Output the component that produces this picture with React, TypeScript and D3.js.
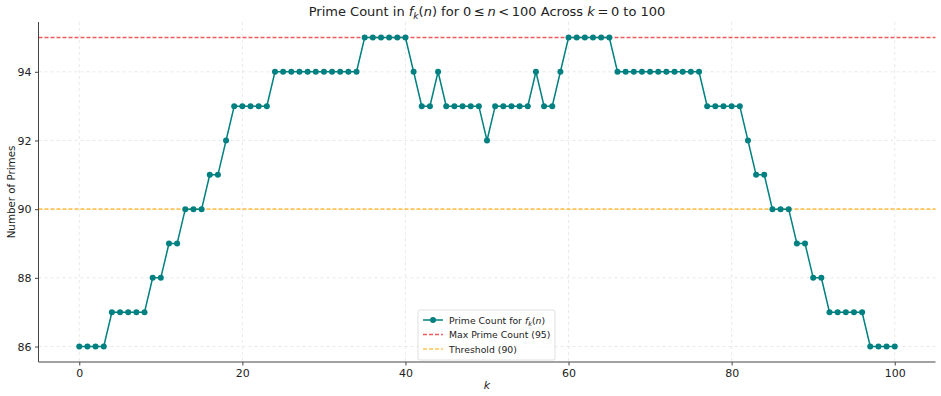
import { useEffect, useRef } from "react";
import * as d3 from "d3";

// prime counts for k = 0..100
const ks: number[] = d3.range(0, 101);
const primeCounts: number[] = [
  86, 86, 86, 86, 87, 87, 87, 87, 87, 88,
  88, 89, 89, 90, 90, 90, 91, 91, 92, 93,
  93, 93, 93, 93, 94, 94, 94, 94, 94, 94,
  94, 94, 94, 94, 94, 95, 95, 95, 95, 95,
  95, 94, 93, 93, 94, 93, 93, 93, 93, 93,
  92, 93, 93, 93, 93, 93, 94, 93, 93, 94,
  95, 95, 95, 95, 95, 95, 94, 94, 94, 94,
  94, 94, 94, 94, 94, 94, 94, 93, 93, 93,
  93, 93, 92, 91, 91, 90, 90, 90, 89, 89,
  88, 88, 87, 87, 87, 87, 87, 86, 86, 86,
  86,
];
const xTicks: number[] = [0, 20, 40, 60, 80, 100];
const yTicks: number[] = [86, 88, 90, 92, 94];
const maxLine = 95;
const thresholdLine = 90;

const W = 941;
const H = 396;
const FONT = "DejaVu Sans, sans-serif";
const RED = "rgb(240,90,90)";
const ORANGE = "rgb(255,195,90)";

export default function App() {
  const svgRef = useRef<SVGSVGElement>(null);

  useEffect(() => {
    const svg = d3.select(svgRef.current);
    svg.selectAll("*").remove();

    const left = 38.5;
    const right = 935.5;
    const top = 22;
    const bottom = 362;

    const x = d3.scaleLinear().domain([-5, 105]).range([left, right]);
    const y = d3.scaleLinear().domain([85.55, 95.45]).range([bottom, top]);

    // grid
    const grid = svg.append("g");
    xTicks.forEach((t) => {
      grid
        .append("line")
        .attr("x1", x(t)).attr("x2", x(t))
        .attr("y1", top).attr("y2", bottom)
        .attr("stroke", "#e3e3e3")
        .attr("stroke-width", 0.8)
        .attr("stroke-dasharray", "3,3");
    });
    yTicks.forEach((t) => {
      grid
        .append("line")
        .attr("x1", left).attr("x2", right)
        .attr("y1", y(t)).attr("y2", y(t))
        .attr("stroke", "#e3e3e3")
        .attr("stroke-width", 0.8)
        .attr("stroke-dasharray", "3,3");
    });

    // reference lines
    const refs = svg.append("g");
    refs
      .append("line")
      .attr("x1", left).attr("x2", right)
      .attr("y1", y(maxLine)).attr("y2", y(maxLine))
      .style("stroke", RED)
      .style("stroke-width", 1.6)
      .style("stroke-dasharray", "4,2");
    refs
      .append("line")
      .attr("x1", left).attr("x2", right)
      .attr("y1", y(thresholdLine)).attr("y2", y(thresholdLine))
      .style("stroke", ORANGE)
      .style("stroke-width", 1.6)
      .style("stroke-dasharray", "4,2");

    // data line + markers
    const line = d3
      .line<number>()
      .x((d, i) => x(ks[i]))
      .y((d) => y(d));
    svg
      .append("path")
      .datum(primeCounts)
      .attr("d", line)
      .attr("fill", "none")
      .attr("stroke", "#008080")
      .attr("stroke-width", 1.5);
    svg
      .append("g")
      .selectAll("circle")
      .data(primeCounts)
      .enter()
      .append("circle")
      .attr("cx", (d, i) => x(ks[i]))
      .attr("cy", (d) => y(d))
      .attr("r", 3)
      .attr("fill", "#008080");

    // axes
    const xAxis = svg
      .append("g")
      .attr("transform", `translate(0,${bottom})`)
      .call(d3.axisBottom(x).tickValues(xTicks).tickSize(3.5).tickPadding(3.5));
    const yAxis = svg
      .append("g")
      .attr("transform", `translate(${left},0)`)
      .call(d3.axisLeft(y).tickValues(yTicks).tickSize(3.5).tickPadding(3.5));
    [xAxis, yAxis].forEach((a) => {
      a.select(".domain").attr("stroke", "#444").attr("stroke-width", 1);
      a.selectAll(".tick line").attr("stroke", "#444");
      a.selectAll(".tick text")
        .attr("fill", "#222")
        .style("font-family", FONT)
        .style("font-size", "11px");
    });
    xAxis.select(".domain").attr("d", `M${left},0H${right}`);
    yAxis.select(".domain").attr("d", `M0,${top}V${bottom}`);

    // labels
    svg
      .append("text")
      .attr("x", (left + right) / 2)
      .attr("y", 389)
      .attr("text-anchor", "middle")
      .style("font-family", FONT)
      .style("font-size", "11px")
      .style("font-style", "italic")
      .attr("fill", "#222")
      .text("k");
    svg
      .append("text")
      .attr("transform", `translate(15,${(top + bottom) / 2}) rotate(-90)`)
      .attr("text-anchor", "middle")
      .style("font-family", FONT)
      .style("font-size", "10.3px")
      .attr("fill", "#222")
      .text("Number of Primes");

    // title
    const title = svg
      .append("text")
      .attr("x", (left + right) / 2)
      .attr("y", 16)
      .attr("text-anchor", "middle")
      .style("font-family", FONT)
      .style("font-size", "13px")
      .attr("fill", "#222");
    title.append("tspan").text("Prime Count in ");
    title.append("tspan").style("font-style", "italic").text("f");
    title.append("tspan").style("font-style", "italic").style("font-size", "9px").attr("dy", 3).text("k");
    title.append("tspan").attr("dy", -3).text("(");
    title.append("tspan").style("font-style", "italic").text("n");
    title.append("tspan").text(") for 0\u2009\u2264\u2009");
    title.append("tspan").style("font-style", "italic").text("n");
    title.append("tspan").text("\u2009<\u2009100 Across ");
    title.append("tspan").style("font-style", "italic").text("k");
    title.append("tspan").text("\u2009=\u20090 to 100");

    // legend
    const lg = svg.append("g").attr("transform", "translate(418,310)");
    lg.append("rect")
      .attr("width", 137)
      .attr("height", 50)
      .attr("rx", 2)
      .attr("fill", "white")
      .attr("fill-opacity", 0.8)
      .attr("stroke", "#d8d8d8")
      .attr("stroke-width", 0.8);
    const items = [
      { label: "Prime Count for ", color: "#008080", dash: null, marker: true },
      { label: "Max Prime Count (95)", color: RED, dash: "4,2", marker: false },
      { label: "Threshold (90)", color: ORANGE, dash: "4,2", marker: false },
    ];
    items.forEach((it, i) => {
      const cy = 10 + i * 14.5;
      lg.append("line")
        .attr("x1", 5).attr("x2", 25)
        .attr("y1", cy).attr("y2", cy)
        .style("stroke", it.color)
        .style("stroke-width", it.marker ? 1.5 : 1.4)
        .style("stroke-dasharray", it.dash);
      if (it.marker) {
        lg.append("circle").attr("cx", 15).attr("cy", cy).attr("r", 3).attr("fill", it.color);
      }
      const t = lg.append("text")
        .attr("x", 31)
        .attr("y", cy + 3.5)
        .style("font-family", FONT)
        .style("font-size", "9.3px")
        .attr("fill", "#222")
        .text(it.label);
      if (it.marker) {
        t.append("tspan").style("font-style", "italic").text("f");
        t.append("tspan").style("font-style", "italic").style("font-size", "6.5px").attr("dy", 2).text("k");
        t.append("tspan").attr("dy", -2).text("(");
        t.append("tspan").style("font-style", "italic").text("n");
        t.append("tspan").text(")");
      }
    });
  }, []);

  return (
    <svg
      ref={svgRef}
      width={W}
      height={H}
      style={{ position: "absolute", left: 0, top: 0, background: "white" }}
    ></svg>
  );
}
